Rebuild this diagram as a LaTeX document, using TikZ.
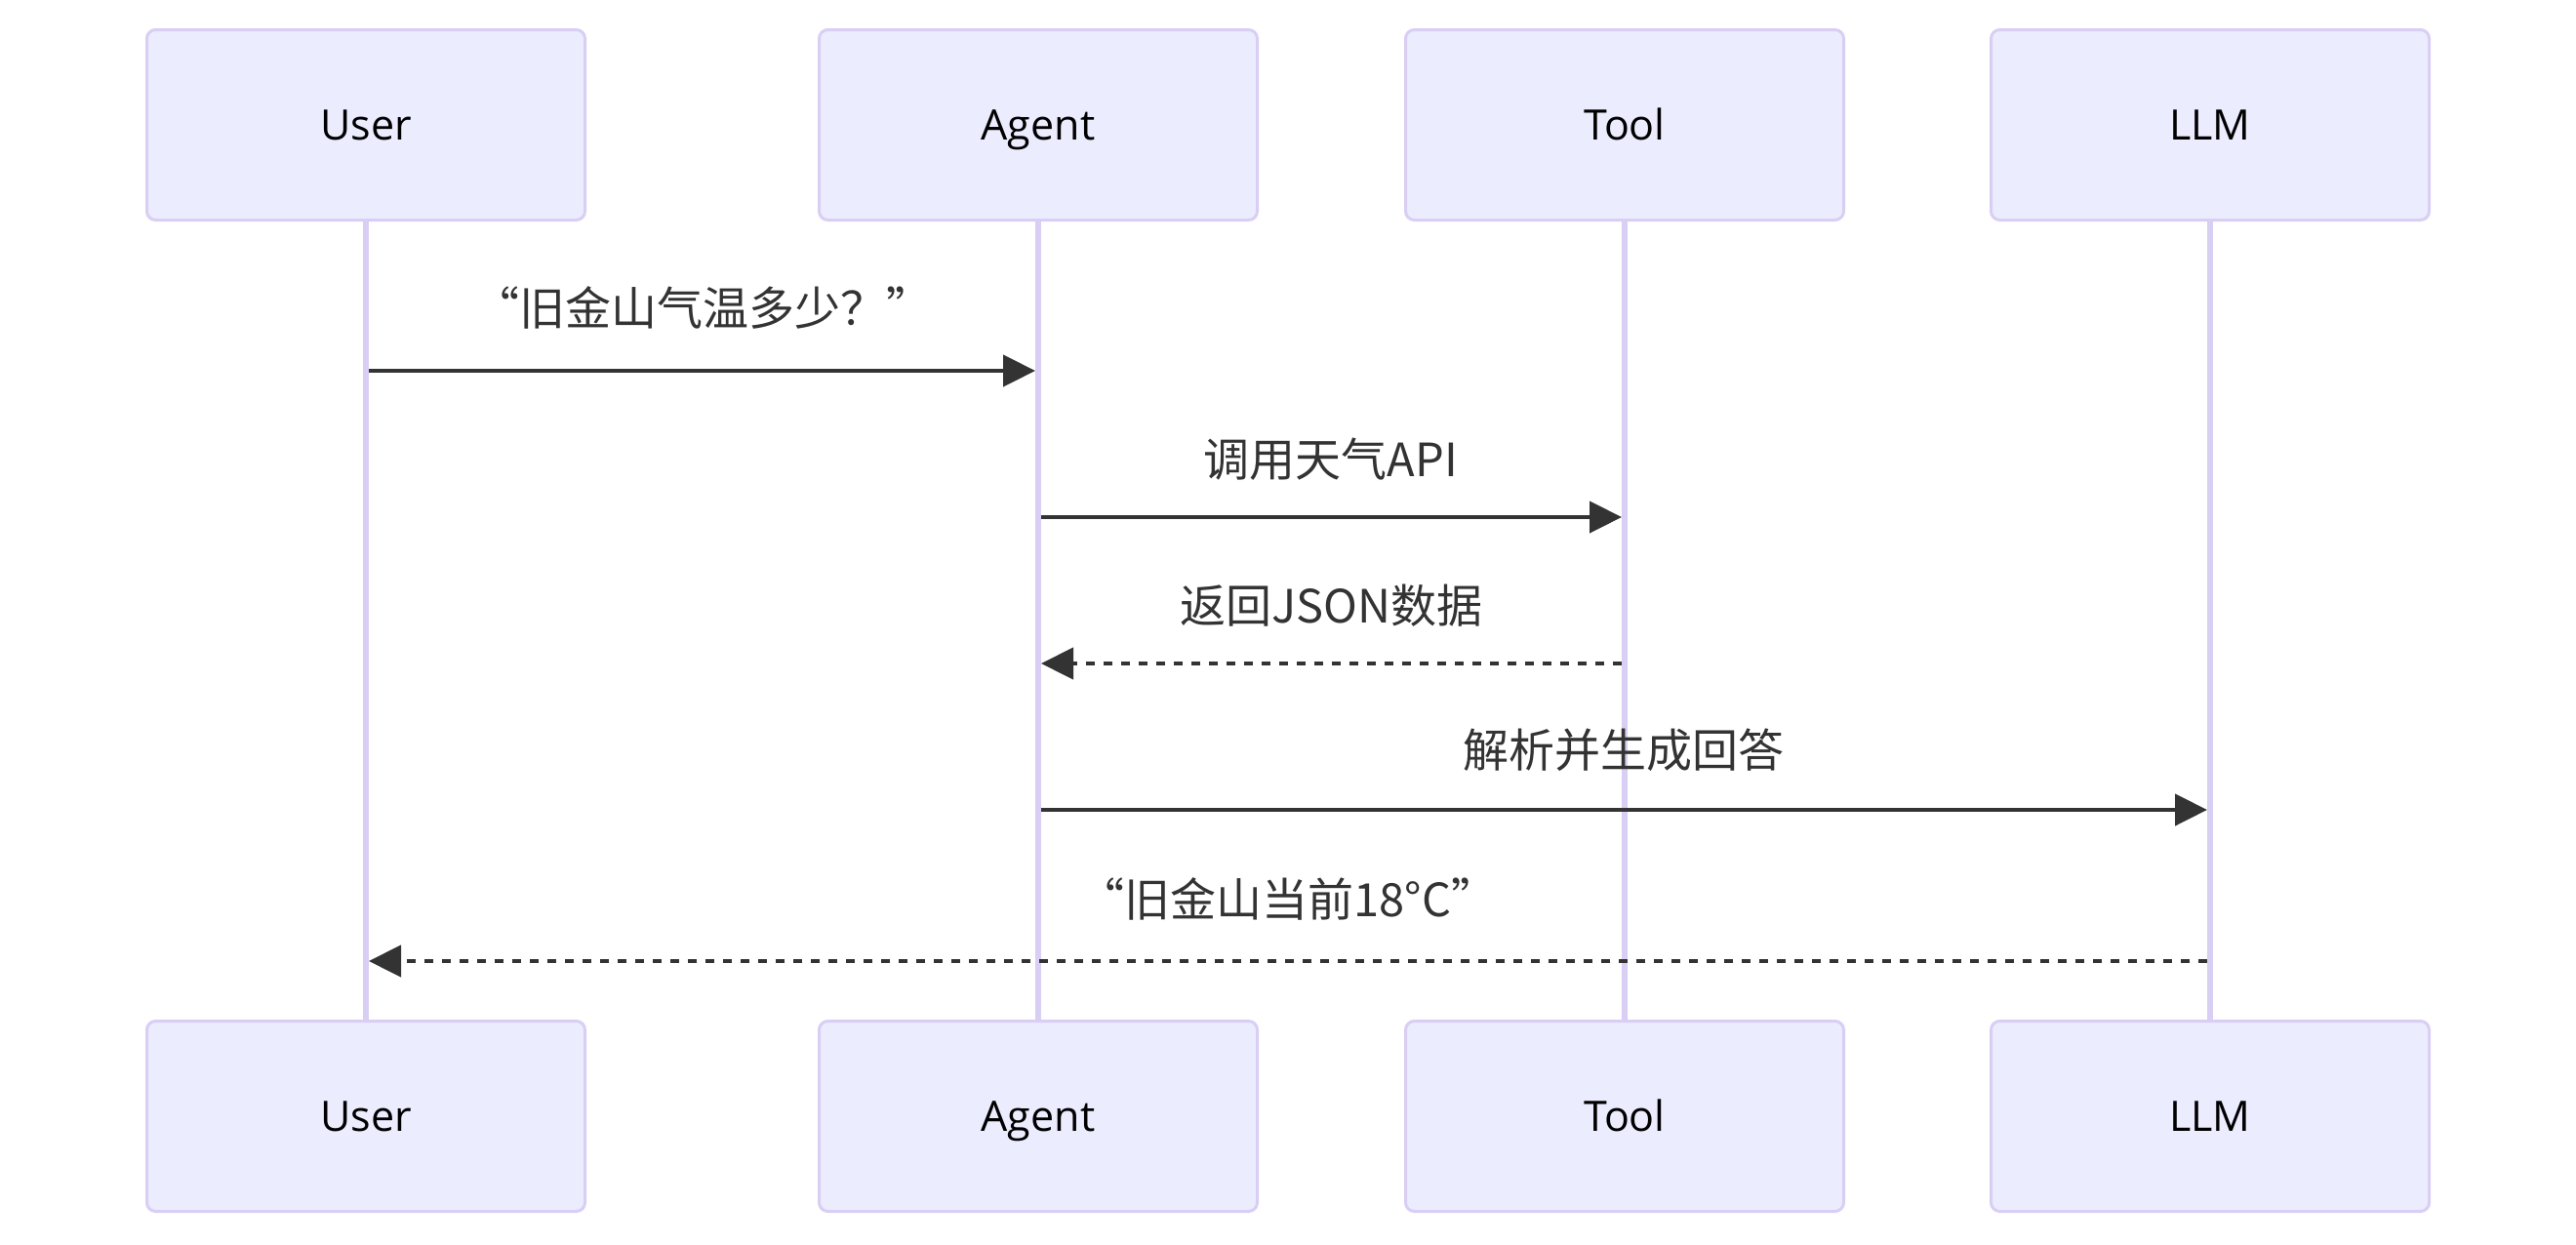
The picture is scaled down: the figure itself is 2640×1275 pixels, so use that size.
\documentclass[tikz,border=0pt]{standalone}
\usepackage{fontspec}
\setmainfont{Open Sans}
\newfontfamily\cjk{Noto Sans CJK SC}
\usetikzlibrary{arrows.meta}
\definecolor{actfill}{HTML}{ECECFF}
\definecolor{actline}{HTML}{D9CEF3}
\definecolor{msgc}{HTML}{333333}
\begin{document}
\begin{tikzpicture}[x=1pt,y=-1pt,
  actor/.style={draw=actline, line width=3pt, fill=actfill, rounded corners=9pt,
    minimum width=449pt, minimum height=195pt, inner sep=0pt,
    text height=30pt, text depth=0pt,
    font=\fontsize{43}{50}\selectfont, text=black},
  lifeline/.style={draw=actline, line width=5.5pt},
  msg/.style={draw=msgc, line width=4.5pt, -{Triangle[length=33pt,width=32pt]}},
  reply/.style={msg, dash pattern=on 9pt off 9pt},
  lbl/.style={font=\cjk\fontsize{47}{54}\selectfont, text=msgc, inner sep=0pt}]
\useasboundingbox (0,0) rectangle (2640,1275);
\fill[white] (0,0) rectangle (2640,1275);
% actors
\node[actor] (uT) at (375,128) {User};
\node[actor] (aT) at (1064,128) {Agent};
\node[actor] (tT) at (1665,128) {Tool};
\node[actor] (lT) at (2265,128) {LLM};
\node[actor] (uB) at (375,1144) {User};
\node[actor] (aB) at (1064,1144) {Agent};
\node[actor] (tB) at (1665,1144) {Tool};
\node[actor] (lB) at (2265,1144) {LLM};
% lifelines
\draw[lifeline] (uT.south) -- (uB.north);
\draw[lifeline] (aT.south) -- (aB.north);
\draw[lifeline] (tT.south) -- (tB.north);
\draw[lifeline] (lT.south) -- (lB.north);
% message end points
\coordinate (m1s) at (378,380);  \coordinate (m1e) at (1061,380);
\coordinate (m2s) at (1067,530); \coordinate (m2e) at (1662,530);
\coordinate (m3s) at (1662,680); \coordinate (m3e) at (1067,680);
\coordinate (m4s) at (1067,830); \coordinate (m4e) at (2262,830);
\coordinate (m5s) at (2262,985); \coordinate (m5e) at (378,985);
\draw[msg] (m1s) -- (m1e);
\draw[msg] (m2s) -- (m2e);
\draw[reply] (m3s) -- (m3e);
\draw[msg] (m4s) -- (m4e);
\draw[reply] (m5s) -- (m5e);
% labels
\node[lbl] (l1) at (720,315) {“旧金山气温多少？”};
\node[lbl] (l2) at (1364,471) {调用天气API};
\node[lbl] (l3) at (1364,621) {返回JSON数据};
\node[lbl] (l4) at (1664,769) {解析并生成回答};
\node[lbl] (l5) at (1320,921) {“旧金山当前18°C”};
\end{tikzpicture}
\end{document}
